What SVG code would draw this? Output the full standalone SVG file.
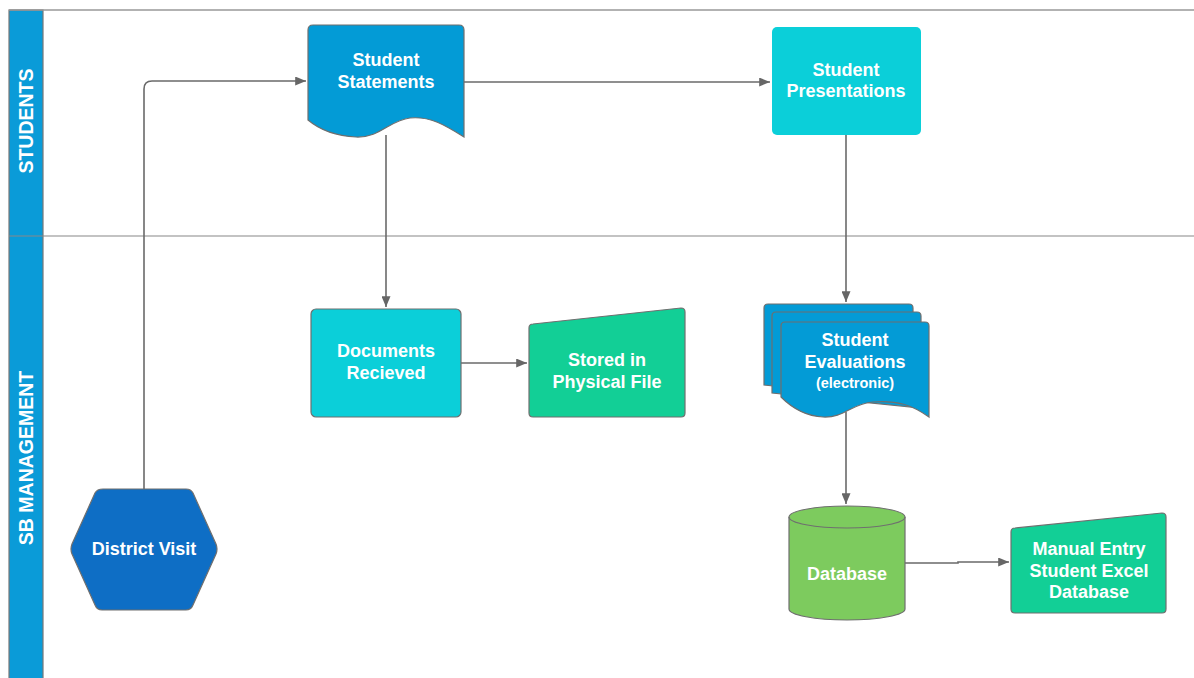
<svg xmlns="http://www.w3.org/2000/svg" width="1194" height="678" viewBox="0 0 1194 678">
<defs>
<style>
.t{font-family:"Liberation Sans",Arial,sans-serif;font-weight:bold;font-size:18px;fill:#fff;text-anchor:middle;dominant-baseline:central}
.sm{font-size:14.5px}
.lane{font-family:"Liberation Sans",Arial,sans-serif;font-weight:bold;font-size:19.5px;fill:#fff;text-anchor:middle;dominant-baseline:central}
.sh{stroke:#6f6f6f;stroke-width:1.2}
.c{fill:none;stroke:#6a6a6a;stroke-width:1.6}
</style>
<marker id="ah" viewBox="0 0 12 10" refX="12" refY="5" markerWidth="11" markerHeight="9" markerUnits="userSpaceOnUse" orient="auto">
<path d="M0,0 L12,5 L0,10 Z" fill="#666"/>
</marker>
</defs>
<rect width="1194" height="678" fill="#fff"/>
<g id="pool">
<rect x="9" y="10" width="34" height="680" fill="#0A9BD8" stroke="#777" stroke-width="1.2"/>
<line x1="9" y1="10" x2="1194" y2="10" stroke="#999" stroke-width="1.5"/>
<line x1="9" y1="236" x2="1194" y2="236" stroke="#888" stroke-width="1.2"/>
<text class="lane" transform="translate(26,121) rotate(-90)">STUDENTS</text>
<text class="lane" transform="translate(26,458) rotate(-90)">SB MANAGEMENT</text>
</g>
<g id="connectors">
<path class="c" d="M144,490 V89 Q144,81 152,81 H306" marker-end="url(#ah)"/>
<path class="c" d="M464,82 H770" marker-end="url(#ah)"/>
<path class="c" d="M386,135 V307" marker-end="url(#ah)"/>
<path class="c" d="M846,135 V302" marker-end="url(#ah)"/>
<path class="c" d="M461,363 H527" marker-end="url(#ah)"/>
<path class="c" d="M846,412 V504" marker-end="url(#ah)"/>
<path class="c" d="M905,563 H958 V562 H1009" marker-end="url(#ah)"/>
</g>
<g id="student-statements">
<path class="sh" fill="#039BD6" d="M313,25 H459 Q464,25 464,30 V137 C445,125 430,116 410,118 C390,120 380,138 356,137 C335,136 320,130 308,120 V30 Q308,25 313,25 Z"/>
<text class="t" x="386" y="60">Student</text>
<text class="t" x="386" y="82">Statements</text>
</g>
<g id="student-presentations">
<rect x="772" y="27" width="149" height="108" rx="5" fill="#0BCFD9"/>
<text class="t" x="846" y="70">Student</text>
<text class="t" x="846" y="91">Presentations</text>
</g>
<g id="documents-recieved">
<rect class="sh" x="311" y="309" width="150" height="108" rx="5" fill="#0BCFD9"/>
<text class="t" x="386" y="351">Documents</text>
<text class="t" x="386" y="373">Recieved</text>
</g>
<g id="stored-physical-file">
<path class="sh" fill="#12CF96" d="M533,324 L681,308 Q685,308 685,312 V413 Q685,417 681,417 H533 Q529,417 529,413 V328 Q529,324 533,324 Z"/>
<text class="t" x="607" y="359.5">Stored in</text>
<text class="t" x="607" y="381.5">Physical File</text>
</g>
<g id="district-visit">
<path class="sh" fill="#0E6EC5" d="M103,489 H186 Q191,489 193,493 L216,544 Q218,549 216,554 L193,605 Q191,610 186,610 H102 Q97,610 95,605 L72,554 Q70,549 72,544 L95,493 Q97,489 103,489 Z"/>
<text class="t" x="144" y="548.5">District Visit</text>
</g>
<g id="student-evaluations">
<path class="sh" fill="#039BD6" d="M768,304 H909 Q913,304 913,308 V400 L764,385 V308 Q764,304 768,304 Z"/>
<path class="sh" fill="#039BD6" d="M776,312 H917 Q921,312 921,316 V408 L772,393 V316 Q772,312 776,312 Z"/>
<path class="sh" fill="#039BD6" d="M785,322 H925 Q929,322 929,326 V417 C912,405 897,400 873,402 C850,404 845,418 823,417 C805,416 792,408 781,397 V326 Q781,322 785,322 Z"/>
<text class="t" x="855" y="340">Student</text>
<text class="t" x="855" y="362">Evaluations</text>
<text class="t sm" x="855" y="383">(electronic)</text>
</g>
<g id="database">
<path class="sh" fill="#7DCB5E" d="M789,517 A58,11 0 0 1 905,517 V609 A58,11 0 0 1 789,609 Z"/>
<path class="sh" fill="none" d="M789,517 A58,11 0 0 0 905,517"/>
<text class="t" x="847" y="573.5">Database</text>
</g>
<g id="manual-entry">
<path class="sh" fill="#12CF96" d="M1015,528 L1162,513 Q1166,513 1166,517 V609 Q1166,613 1162,613 H1015 Q1011,613 1011,609 V532 Q1011,528 1015,528 Z"/>
<text class="t" x="1089" y="549">Manual Entry</text>
<text class="t" x="1089" y="570.5">Student Excel</text>
<text class="t" x="1089" y="592">Database</text>
</g>
</svg>
